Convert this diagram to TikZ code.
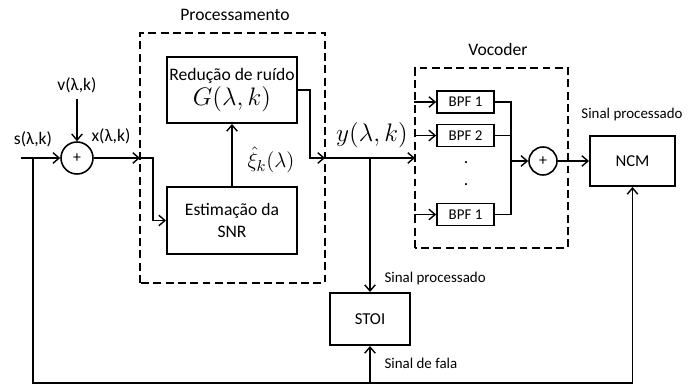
\documentclass[tikz,border=0pt]{standalone}
\usepackage{fontspec}
\setmainfont{Carlito}
\usetikzlibrary{arrows.meta}

\begin{document}
\begin{tikzpicture}[>={Straight Barb[length=3.5pt,width=6pt]}, line width=0.8pt,
    bloco/.style={draw, line width=1.1pt, align=center, inner sep=0pt},
    filtro/.style={draw, line width=1pt, minimum width=1.14cm, minimum height=0.44cm,
      inner sep=0pt, font=\fontsize{8.5}{10}\selectfont},
    soma/.style={draw, circle, line width=0.9pt, minimum size=0.64cm, inner sep=0pt,
      font=\small},
    grupo/.style={draw, line width=1.1pt, dash pattern=on 4.5pt off 2.5pt},
    rotulo/.style={font=\fontsize{8.5}{10}\selectfont}]
  \useasboundingbox (0,0) rectangle (14,7.76);

  % entrada e primeiro somador
  \coordinate (in) at (0.42,4.60);
  \coordinate (tap) at (0.66,4.60);
  \node [soma] (s1) at (1.54,4.60) {+};
  \node (v) at (1.54,6.06) {v(λ,k)};
  \node (s) at (0.66,4.98) {s(λ,k)};
  \node (x) at (2.22,5.04) {x(λ,k)};
  \draw [->] (in) -- (s1);
  \draw [->] (v) -- (s1);

  % bloco de processamento
  \draw [grupo] (2.80,2.10) rectangle (6.50,7.10);
  \node (proc) at (4.70,7.46) {Processamento};
  \node [bloco, minimum width=2.6cm, minimum height=1.32cm] (red) at (4.64,5.96)
    {Redução de ruído\\[1pt] {\Large $G(\lambda,k)$}};
  \node [bloco, minimum width=2.6cm, minimum height=1.34cm] (est) at (4.64,3.35)
    {Estimação da\\SNR};
  \draw [->] (est) -- (red);
  \node (xi) at (5.42,4.56) {\fontsize{13}{15}\selectfont $\hat{\xi}_k(\lambda)$};
  \coordinate (pin) at (2.80,4.60);
  \coordinate (pout) at (6.50,4.60);
  \draw [->] (s1) -- (pin);
  \draw [->] (pin) -- (3.06,4.60) |- (est.west);
  \draw [->] (red.east) -- (6.20,5.96) |- (pout);

  % sinal processado
  \node (y) at (7.44,5.06) {\Large $y(\lambda,k)$};
  \coordinate (vin) at (8.30,4.60);
  \coordinate (ramo) at (7.40,4.60);
  \draw [->] (pout) -- (vin);

  % STOI
  \node [bloco, minimum width=1.6cm, minimum height=1.04cm, font=\fontsize{9.5}{11}\selectfont]
    (stoi) at (7.40,1.38) {STOI};
  \coordinate (base) at (7.40,0.10);
  \draw [->] (ramo) -- (stoi);
  \draw [->] (base) -- (stoi);
  \node [rotulo, anchor=west] (sp1) at (7.56,2.18) {Sinal processado};
  \node [rotulo, anchor=west] (sf) at (7.56,0.50) {Sinal de fala};

  % vocoder
  \draw [grupo] (8.30,2.80) rectangle (11.36,6.40);
  \node (voc) at (9.96,6.78) {Vocoder};
  \node [filtro] (f1) at (9.31,5.72) {BPF 1};
  \node [filtro] (f2) at (9.31,5.05) {BPF 2};
  \node [filtro] (fn) at (9.31,3.47) {BPF 1};
  \node (p1) at (9.32,4.50) {.};
  \node (p2) at (9.32,4.06) {.};
  \foreach \f in {f1,f2,fn}
    \draw [<-] (\f.west) -- ++(-0.44,0);
  \node [soma, minimum size=0.56cm] (s2) at (10.86,4.54) {+};
  \draw (f1.east) -- (10.22,5.72) -- (10.22,3.47) -- (fn.east);
  \draw (f2.east) -- (10.22,5.05);
  \draw [->] (10.22,4.54) -- (s2);

  % NCM
  \node [bloco, minimum width=1.7cm, minimum height=1.0cm, font=\fontsize{9.5}{11}\selectfont]
    (ncm) at (12.65,4.54) {NCM};
  \node [rotulo] (sp2) at (12.64,5.46) {Sinal processado};
  \draw [->] (s2) -- (ncm);
  \draw [->] (tap) |- (base) -| (ncm.south);
\end{tikzpicture}
\end{document}
